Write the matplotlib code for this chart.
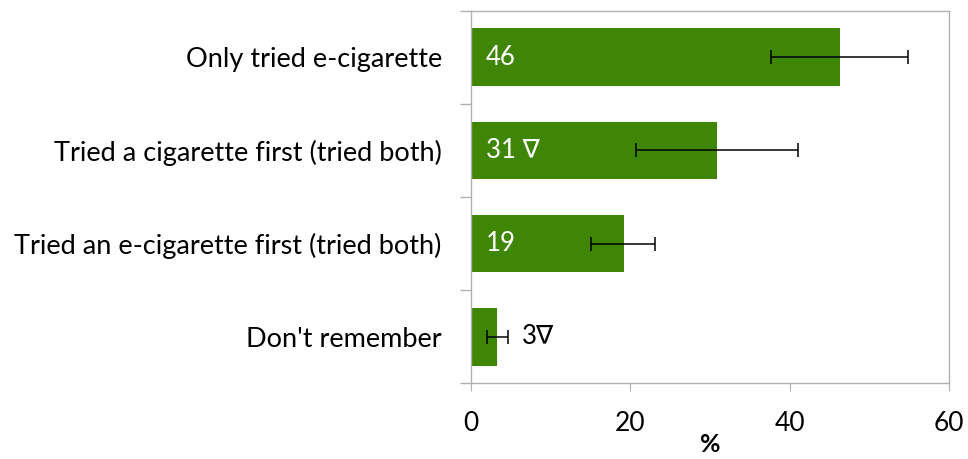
import matplotlib.pyplot as plt
import numpy as np

plt.rcParams['font.family'] = ['Lato', 'DejaVu Sans']

categories = ["Only tried e-cigarette",
              "Tried a cigarette first (tried both)",
              "Tried an e-cigarette first (tried both)",
              "Don't remember"]
values = [46.3, 30.9, 19.2, 3.3]
err_low = [37.7, 20.7, 15.1, 2.0]
err_high = [54.9, 41.0, 23.1, 4.7]
labels = ["46", "31 \u2207", "19", "3\u2207"]
label_inside = [True, True, True, False]

green = "#3f8506"
grey = "#b0b0b0"

fig = plt.figure(figsize=(9.68, 4.59), dpi=100)
ax = fig.add_axes([471 / 968, (459 - 383.3) / 459, (949 - 471) / 968, (383.3 - 10.7) / 459])

y = np.arange(len(categories))
vals = np.array(values)
xerr = np.array([vals - np.array(err_low), np.array(err_high) - vals])

ax.barh(y, vals, height=0.62, color=green, zorder=2)
ax.errorbar(vals, y, xerr=xerr, fmt='none', ecolor='black', elinewidth=1.1,
            capsize=5, capthick=1.1, zorder=3)

for yi, v, lab, inside in zip(y, vals, labels, label_inside):
    if inside:
        ax.text(1.9, yi, lab, color='white', fontsize=18.5, va='center', ha='left', zorder=4)
    else:
        ax.text(v + 3.1, yi, lab, color='black', fontsize=18.5, va='center', ha='left', zorder=4)

ax.set_xlim(0, 60)
ax.set_ylim(len(categories) - 0.5, -0.5)
ax.set_xticks([0, 20, 40, 60])
ax.tick_params(axis='x', labelsize=19, length=6, color=grey, pad=14)

ax.set_yticks(y)
ax.set_yticklabels(categories, fontsize=19.5)
ax.tick_params(axis='y', which='major', length=0, pad=21)
ax.set_yticks(np.arange(-0.5, len(categories)), minor=True)
ax.tick_params(axis='y', which='minor', length=8, color=grey, width=1)

ax.set_xlabel('%', fontsize=18, fontweight='bold', labelpad=-2)

for s in ax.spines.values():
    s.set_color(grey)
    s.set_linewidth(1)

fig.savefig('out.png', dpi=100)
